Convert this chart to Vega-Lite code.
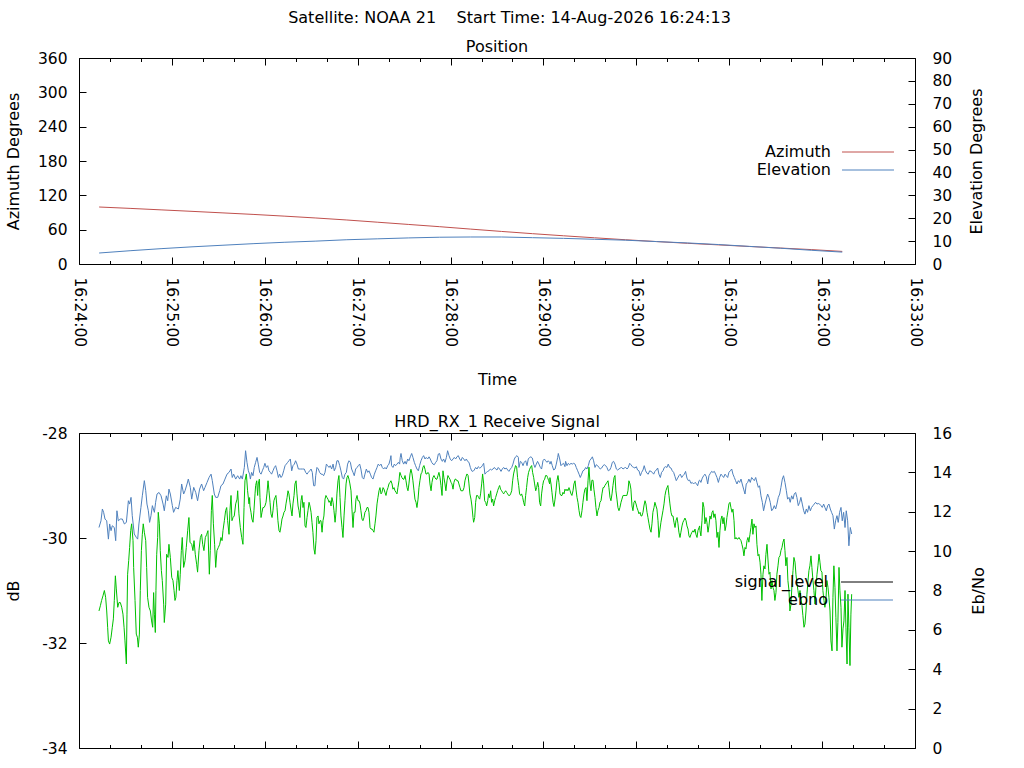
{
  "$schema": "https://vega.github.io/schema/vega-lite/v6.json",
  "background": "white",
  "padding": {"left": 4, "top": 9, "right": 5, "bottom": 5},
  "title": {"text": "Satellite: NOAA 21\u00a0\u00a0\u00a0\u00a0Start Time: 14-Aug-2026 16:24:13", "anchor": "middle", "offset": 13, "dx": 14},
  "spacing": 24,
  "datasets": {
    "pos": [
      {"t": 13, "az": 99.6, "el": 4.8}, {"t": 33, "az": 97.2, "el": 5.8}, {"t": 53, "az": 94.6, "el": 6.7},
      {"t": 73, "az": 92.0, "el": 7.5}, {"t": 93, "az": 89.3, "el": 8.2}, {"t": 113, "az": 86.6, "el": 8.9},
      {"t": 133, "az": 83.6, "el": 9.5}, {"t": 153, "az": 80.4, "el": 10.0}, {"t": 173, "az": 76.9, "el": 10.6},
      {"t": 193, "az": 73.0, "el": 11.0}, {"t": 213, "az": 69.1, "el": 11.4}, {"t": 233, "az": 65.2, "el": 11.7},
      {"t": 253, "az": 61.0, "el": 11.8}, {"t": 273, "az": 56.9, "el": 11.8}, {"t": 293, "az": 53.0, "el": 11.5},
      {"t": 313, "az": 49.3, "el": 11.2}, {"t": 333, "az": 45.8, "el": 10.8}, {"t": 353, "az": 42.4, "el": 10.4},
      {"t": 373, "az": 39.2, "el": 9.8}, {"t": 393, "az": 36.2, "el": 9.2}, {"t": 413, "az": 33.4, "el": 8.5},
      {"t": 433, "az": 30.6, "el": 7.7}, {"t": 453, "az": 27.9, "el": 6.9}, {"t": 473, "az": 25.2, "el": 6.0},
      {"t": 493, "az": 22.0, "el": 5.2}
    ],
    "ebno": [
      {"t":12.9,"v":11.20},{"t":14.2,"v":11.54},{"t":15.1,"v":12.14},{"t":15.9,"v":11.97},{"t":16.8,"v":11.63},{"t":17.9,"v":11.54},{"t":19.0,"v":10.61},{"t":19.8,"v":11.38},{"t":20.7,"v":11.04},{"t":21.5,"v":11.29},{"t":22.8,"v":11.20},{"t":23.7,"v":10.53},{"t":24.5,"v":12.05},{"t":25.4,"v":11.54},{"t":26.7,"v":11.63},{"t":28.0,"v":11.63},{"t":29.3,"v":11.38},{"t":30.6,"v":11.46},{"t":31.9,"v":12.56},{"t":32.7,"v":12.39},{"t":33.6,"v":12.73},{"t":34.4,"v":11.80},{"t":35.7,"v":10.87},{"t":37.0,"v":10.70},{"t":37.9,"v":10.61},{"t":38.7,"v":11.38},{"t":40.0,"v":12.22},{"t":40.9,"v":12.81},{"t":42.2,"v":13.58},{"t":43.1,"v":13.07},{"t":43.9,"v":12.39},{"t":44.8,"v":12.05},{"t":45.6,"v":11.46},{"t":46.5,"v":11.80},{"t":47.4,"v":12.31},{"t":48.7,"v":11.97},{"t":49.5,"v":12.48},{"t":50.4,"v":12.90},{"t":51.7,"v":12.98},{"t":53.0,"v":12.81},{"t":54.3,"v":12.39},{"t":55.1,"v":12.05},{"t":56.4,"v":12.81},{"t":57.3,"v":12.56},{"t":58.1,"v":13.15},{"t":59.0,"v":12.90},{"t":60.3,"v":12.31},{"t":61.1,"v":11.97},{"t":62.4,"v":12.22},{"t":64.2,"v":12.14},{"t":65.4,"v":12.64},{"t":66.3,"v":13.41},{"t":67.6,"v":12.90},{"t":68.5,"v":13.07},{"t":69.8,"v":13.41},{"t":70.6,"v":13.66},{"t":71.9,"v":13.24},{"t":72.8,"v":12.64},{"t":74.1,"v":13.24},{"t":75.4,"v":12.98},{"t":76.6,"v":12.56},{"t":77.9,"v":13.15},{"t":79.2,"v":13.41},{"t":80.5,"v":13.07},{"t":81.4,"v":13.24},{"t":82.7,"v":13.49},{"t":84.0,"v":13.74},{"t":85.3,"v":13.91},{"t":86.1,"v":13.58},{"t":87.4,"v":12.90},{"t":88.3,"v":12.73},{"t":89.6,"v":12.73},{"t":90.9,"v":13.07},{"t":91.7,"v":13.32},{"t":93.0,"v":13.41},{"t":94.3,"v":13.66},{"t":95.6,"v":13.91},{"t":96.9,"v":14.00},{"t":98.2,"v":14.17},{"t":99.0,"v":13.74},{"t":99.9,"v":13.91},{"t":101.2,"v":13.66},{"t":102.5,"v":13.83},{"t":103.8,"v":13.66},{"t":104.6,"v":13.83},{"t":105.5,"v":13.66},{"t":106.8,"v":14.25},{"t":107.6,"v":15.10},{"t":108.5,"v":14.51},{"t":109.4,"v":14.08},{"t":110.2,"v":13.91},
      {"t":110.7,"v":13.66},{"t":111.5,"v":14.00},{"t":112.4,"v":13.83},{"t":113.2,"v":14.25},{"t":114.1,"v":14.51},{"t":115.0,"v":14.76},{"t":115.8,"v":14.42},{"t":116.7,"v":14.00},{"t":117.6,"v":13.91},{"t":118.4,"v":14.08},{"t":119.3,"v":14.25},{"t":120.1,"v":14.46},{"t":121.0,"v":14.25},{"t":121.9,"v":14.34},{"t":122.7,"v":14.08},{"t":123.6,"v":14.00},{"t":124.4,"v":13.91},{"t":125.3,"v":14.08},{"t":126.2,"v":14.25},{"t":127.0,"v":14.34},{"t":127.9,"v":14.08},{"t":128.8,"v":13.74},{"t":129.6,"v":13.91},{"t":130.5,"v":13.74},{"t":131.3,"v":13.83},{"t":132.2,"v":14.08},{"t":133.1,"v":14.34},{"t":133.9,"v":14.42},{"t":134.8,"v":14.51},{"t":135.6,"v":14.59},{"t":136.5,"v":14.68},{"t":137.4,"v":14.08},{"t":138.2,"v":14.34},{"t":139.1,"v":14.42},{"t":139.9,"v":14.59},{"t":140.8,"v":14.42},{"t":141.7,"v":14.17},{"t":143.0,"v":14.17},{"t":144.3,"v":14.17},{"t":145.5,"v":14.17},{"t":146.4,"v":14.00},{"t":147.3,"v":13.91},{"t":148.1,"v":14.00},{"t":149.0,"v":14.08},{"t":149.9,"v":14.17},{"t":150.7,"v":14.00},{"t":151.1,"v":13.66},{"t":151.6,"v":13.32},{"t":152.4,"v":13.32},{"t":152.9,"v":13.83},{"t":153.7,"v":14.25},{"t":154.6,"v":14.17},{"t":155.4,"v":14.00},{"t":156.3,"v":13.91},{"t":157.2,"v":13.91},{"t":158.0,"v":13.83},{"t":158.9,"v":14.00},{"t":159.8,"v":14.42},{"t":160.6,"v":14.34},{"t":161.5,"v":14.25},{"t":162.3,"v":14.34},{"t":163.2,"v":14.17},{"t":164.1,"v":14.42},{"t":164.9,"v":14.08},{"t":165.8,"v":14.25},{"t":166.6,"v":14.59},{"t":167.5,"v":14.59},{"t":168.4,"v":14.34},{"t":169.2,"v":14.08},{"t":170.1,"v":13.74},{"t":170.9,"v":13.66},{"t":171.8,"v":13.91},{"t":172.7,"v":14.00},{"t":173.5,"v":14.42},{"t":174.4,"v":14.59},{"t":175.3,"v":14.51},{"t":176.1,"v":14.17},{"t":177.0,"v":14.00},{"t":177.8,"v":13.83},{"t":178.7,"v":14.17},{"t":179.6,"v":14.25},{"t":180.4,"v":14.34},{"t":181.3,"v":14.42},{"t":182.1,"v":14.17},{"t":183.0,"v":13.74},{"t":183.9,"v":13.66},{"t":184.7,"v":13.91},{"t":185.6,"v":14.17},{"t":186.5,"v":14.00},{"t":187.3,"v":14.08},{"t":188.2,"v":13.91},{"t":189.0,"v":13.74},{"t":189.9,"v":13.66},{"t":190.8,"v":13.91},{"t":191.6,"v":14.08},{"t":192.5,"v":14.25},{"t":193.3,"v":14.42},{"t":194.2,"v":14.34},{"t":195.1,"v":14.42},{"t":195.9,"v":14.25},{"t":196.8,"v":14.17},{"t":197.6,"v":14.25},{"t":198.5,"v":14.17},{"t":199.4,"v":14.34},{"t":200.2,"v":14.42},{"t":201.1,"v":14.68},{"t":201.5,"v":14.85},{"t":201.9,"v":14.34},{"t":202.8,"v":14.25},{"t":203.7,"v":14.42},{"t":204.5,"v":14.34},{"t":205.4,"v":14.42},{"t":206.3,"v":14.51},{"t":207.1,"v":14.42},
      {"t":207.5,"v":14.76},{"t":208.0,"v":14.96},{"t":208.8,"v":14.59},{"t":209.7,"v":14.42},{"t":210.6,"v":14.56},{"t":211.4,"v":14.42},{"t":212.3,"v":14.68},{"t":213.1,"v":14.59},{"t":214.0,"v":14.79},{"t":214.9,"v":14.96},{"t":215.7,"v":14.76},{"t":216.6,"v":14.51},{"t":217.4,"v":14.34},{"t":218.3,"v":14.17},{"t":219.2,"v":14.08},{"t":220.0,"v":14.34},{"t":220.9,"v":14.59},{"t":221.8,"v":14.76},{"t":222.6,"v":14.85},{"t":223.5,"v":14.68},{"t":224.3,"v":14.76},{"t":225.2,"v":14.68},{"t":226.1,"v":14.79},{"t":226.9,"v":14.68},{"t":227.8,"v":14.51},{"t":228.6,"v":14.42},{"t":229.5,"v":14.39},{"t":230.4,"v":14.51},{"t":231.2,"v":14.59},{"t":232.1,"v":14.93},{"t":232.9,"v":14.96},{"t":233.8,"v":14.68},{"t":234.7,"v":14.56},{"t":235.5,"v":14.68},{"t":236.4,"v":14.51},{"t":237.3,"v":14.76},{"t":238.1,"v":15.10},{"t":239.0,"v":14.85},{"t":239.8,"v":14.68},{"t":240.7,"v":14.59},{"t":241.6,"v":14.68},{"t":242.4,"v":14.76},{"t":243.3,"v":14.68},{"t":244.1,"v":14.79},{"t":245.0,"v":14.85},{"t":245.9,"v":14.68},{"t":246.7,"v":14.59},{"t":247.6,"v":14.76},{"t":248.5,"v":14.68},{"t":249.3,"v":14.59},{"t":250.2,"v":14.68},{"t":251.0,"v":14.56},{"t":251.9,"v":14.51},{"t":252.8,"v":14.25},{"t":253.6,"v":14.08},{"t":254.5,"v":14.05},{"t":255.3,"v":14.12},{"t":256.2,"v":14.25},{"t":257.1,"v":14.17},{"t":257.9,"v":14.29},{"t":258.8,"v":14.22},{"t":259.6,"v":14.25},{"t":260.5,"v":14.34},{"t":261.4,"v":14.46},{"t":262.2,"v":13.91},{"t":263.1,"v":14.00},{"t":264.0,"v":14.05},{"t":264.8,"v":14.08},{"t":265.7,"v":14.17},{"t":266.5,"v":14.12},{"t":267.4,"v":14.17},{"t":268.3,"v":14.25},{"t":269.1,"v":14.17},{"t":270.0,"v":14.12},{"t":270.8,"v":14.25},{"t":271.7,"v":14.17},{"t":272.6,"v":14.05},{"t":273.4,"v":14.17},{"t":274.3,"v":14.25},{"t":275.1,"v":14.17},{"t":276.0,"v":14.22},{"t":276.9,"v":14.12},{"t":277.7,"v":14.05},{"t":278.6,"v":14.17},{"t":279.5,"v":14.25},{"t":280.3,"v":14.42},{"t":281.2,"v":14.68},{"t":282.0,"v":14.79},{"t":282.9,"v":14.85},{"t":283.8,"v":14.76},{"t":284.2,"v":14.25},{"t":285.1,"v":14.56},{"t":285.9,"v":14.51},{"t":286.8,"v":14.34},{"t":287.6,"v":14.51},{"t":288.5,"v":14.59},{"t":289.4,"v":14.34},{"t":290.2,"v":14.68},{"t":291.1,"v":14.76},{"t":291.9,"v":14.79},{"t":292.8,"v":14.73},{"t":293.7,"v":14.42},{"t":294.5,"v":14.25},{"t":295.4,"v":14.42},{"t":296.2,"v":14.56},{"t":297.1,"v":14.42},{"t":298.0,"v":14.25},{"t":298.8,"v":14.17},{"t":299.7,"v":14.59},{"t":300.6,"v":14.68},{"t":301.4,"v":14.59},{"t":302.3,"v":14.51},{"t":303.1,"v":14.59},{"t":304.0,"v":14.51},
      {"t":304.2,"v":14.42},{"t":304.9,"v":14.56},{"t":305.7,"v":14.34},{"t":306.6,"v":14.12},{"t":307.5,"v":14.17},{"t":308.3,"v":14.42},{"t":309.2,"v":14.76},{"t":309.6,"v":14.96},{"t":310.5,"v":14.68},{"t":311.3,"v":14.34},{"t":312.2,"v":14.42},{"t":313.0,"v":14.46},{"t":313.9,"v":14.29},{"t":314.3,"v":14.56},{"t":315.2,"v":14.34},{"t":316.1,"v":14.46},{"t":316.9,"v":14.39},{"t":317.8,"v":14.46},{"t":318.6,"v":14.42},{"t":319.5,"v":14.46},{"t":320.4,"v":14.42},{"t":321.2,"v":14.25},{"t":322.1,"v":14.08},{"t":323.0,"v":13.91},{"t":323.8,"v":13.74},{"t":324.7,"v":13.91},{"t":325.5,"v":14.08},{"t":326.4,"v":14.12},{"t":327.3,"v":14.25},{"t":328.1,"v":14.17},{"t":329.0,"v":14.34},{"t":329.8,"v":14.59},{"t":330.7,"v":14.68},{"t":331.6,"v":14.79},{"t":332.4,"v":14.59},{"t":333.3,"v":14.25},{"t":334.1,"v":14.39},{"t":335.0,"v":14.34},{"t":335.9,"v":14.25},{"t":336.7,"v":14.17},{"t":337.6,"v":14.22},{"t":338.5,"v":14.34},{"t":339.3,"v":14.39},{"t":340.2,"v":14.34},{"t":341.0,"v":14.25},{"t":341.9,"v":14.08},{"t":342.8,"v":14.12},{"t":343.6,"v":14.25},{"t":344.5,"v":14.51},{"t":345.3,"v":14.56},{"t":346.2,"v":14.42},{"t":347.1,"v":14.17},{"t":347.9,"v":14.12},{"t":348.8,"v":14.17},{"t":349.6,"v":14.22},{"t":350.5,"v":14.25},{"t":351.4,"v":14.17},{"t":352.2,"v":14.22},{"t":353.1,"v":14.25},{"t":354.0,"v":14.17},{"t":354.8,"v":14.25},{"t":355.7,"v":14.46},{"t":356.5,"v":14.39},{"t":357.4,"v":14.29},{"t":358.3,"v":14.25},{"t":359.1,"v":14.22},{"t":360.0,"v":14.29},{"t":360.8,"v":14.12},{"t":361.7,"v":14.08},{"t":362.6,"v":13.83},{"t":363.4,"v":14.00},{"t":364.3,"v":14.12},{"t":365.1,"v":14.34},{"t":366.0,"v":14.08},{"t":366.9,"v":13.95},{"t":367.7,"v":13.91},{"t":368.6,"v":14.08},{"t":369.5,"v":14.05},{"t":370.3,"v":14.00},{"t":371.2,"v":13.91},{"t":372.0,"v":14.05},{"t":372.9,"v":14.12},{"t":373.8,"v":14.22},{"t":374.6,"v":13.91},{"t":375.5,"v":13.74},{"t":376.3,"v":14.00},{"t":377.2,"v":14.08},{"t":378.1,"v":14.25},{"t":378.9,"v":14.29},{"t":379.8,"v":14.25},{"t":380.6,"v":14.42},{"t":381.5,"v":14.25},{"t":382.4,"v":14.22},{"t":383.2,"v":14.08},{"t":384.1,"v":14.00},{"t":385.0,"v":13.78},{"t":385.8,"v":13.58},{"t":386.7,"v":13.71},{"t":387.5,"v":13.83},{"t":388.4,"v":13.91},{"t":389.3,"v":13.74},{"t":390.1,"v":13.83},{"t":391.0,"v":13.91},{"t":391.8,"v":14.05},{"t":392.7,"v":13.71},{"t":393.6,"v":13.58},{"t":394.4,"v":13.61},{"t":395.3,"v":13.44},{"t":396.1,"v":13.49},{"t":397.0,"v":13.41},{"t":397.9,"v":13.49},{"t":398.7,"v":13.44},{"t":399.6,"v":13.32},{"t":400.5,"v":13.58},{"t":400.9,"v":13.61},
      {"t":401.1,"v":13.58},{"t":401.7,"v":13.49},{"t":402.6,"v":13.71},{"t":403.5,"v":13.83},{"t":404.3,"v":13.91},{"t":405.2,"v":13.78},{"t":406.1,"v":13.41},{"t":406.9,"v":13.83},{"t":407.8,"v":13.95},{"t":408.6,"v":14.05},{"t":409.5,"v":14.00},{"t":410.4,"v":14.05},{"t":411.2,"v":13.91},{"t":412.1,"v":13.74},{"t":413.0,"v":13.49},{"t":413.8,"v":13.74},{"t":414.7,"v":13.91},{"t":415.5,"v":13.83},{"t":416.4,"v":13.74},{"t":417.3,"v":13.91},{"t":418.1,"v":13.83},{"t":419.0,"v":13.74},{"t":419.8,"v":14.00},{"t":420.7,"v":14.08},{"t":421.6,"v":14.17},{"t":422.4,"v":13.91},{"t":423.3,"v":13.74},{"t":424.1,"v":13.58},{"t":425.0,"v":13.41},{"t":425.9,"v":13.58},{"t":426.7,"v":13.49},{"t":427.6,"v":13.66},{"t":428.4,"v":13.41},{"t":429.3,"v":13.15},{"t":430.2,"v":12.90},{"t":431.0,"v":13.41},{"t":431.9,"v":13.49},{"t":432.7,"v":13.66},{"t":433.6,"v":13.49},{"t":434.5,"v":13.74},{"t":435.3,"v":13.66},{"t":436.2,"v":13.58},{"t":437.1,"v":13.74},{"t":437.9,"v":13.49},{"t":438.8,"v":13.24},{"t":439.6,"v":13.32},{"t":440.5,"v":12.81},{"t":441.4,"v":12.48},{"t":442.2,"v":12.05},{"t":443.1,"v":12.39},{"t":443.9,"v":12.64},{"t":444.8,"v":12.90},{"t":445.7,"v":12.73},{"t":446.5,"v":12.48},{"t":447.4,"v":12.05},{"t":448.3,"v":12.14},{"t":449.1,"v":12.31},{"t":450.0,"v":12.14},{"t":450.8,"v":12.39},{"t":451.7,"v":12.73},{"t":452.6,"v":12.90},{"t":453.4,"v":13.24},{"t":454.3,"v":13.66},{"t":455.1,"v":13.83},{"t":456.0,"v":13.49},{"t":456.9,"v":13.07},{"t":457.7,"v":12.64},{"t":458.6,"v":12.73},{"t":459.4,"v":12.48},{"t":460.3,"v":12.81},{"t":461.2,"v":12.64},{"t":462.0,"v":12.90},{"t":462.9,"v":12.98},{"t":463.7,"v":12.73},{"t":464.6,"v":12.31},{"t":465.5,"v":12.48},{"t":466.3,"v":12.73},{"t":467.2,"v":12.39},{"t":468.1,"v":12.05},{"t":468.9,"v":11.88},{"t":469.8,"v":12.14},{"t":470.6,"v":11.97},{"t":471.5,"v":12.31},{"t":472.4,"v":12.05},{"t":473.2,"v":12.22},{"t":474.1,"v":12.31},{"t":474.9,"v":12.39},{"t":475.8,"v":12.48},{"t":476.7,"v":12.39},{"t":477.5,"v":12.42},{"t":478.4,"v":12.39},{"t":479.3,"v":12.31},{"t":480.1,"v":12.22},{"t":481.0,"v":12.39},{"t":481.8,"v":12.22},{"t":482.7,"v":12.05},{"t":483.6,"v":12.31},{"t":484.4,"v":12.39},{"t":485.3,"v":12.14},{"t":486.1,"v":11.97},{"t":487.0,"v":11.80},{"t":487.9,"v":11.12},{"t":488.7,"v":11.54},{"t":489.6,"v":11.80},{"t":490.4,"v":11.46},{"t":491.3,"v":11.97},{"t":492.2,"v":12.22},{"t":493.0,"v":11.54},{"t":493.9,"v":11.97},{"t":494.8,"v":11.20},{"t":495.6,"v":12.05},{"t":496.5,"v":11.54},{"t":497.3,"v":10.27},{"t":498.2,"v":11.20},{"t":499.1,"v":10.87}
    ],
    "sig": [
      {"t":12.9,"v":-31.39},{"t":13.8,"v":-31.29},{"t":14.6,"v":-31.19},{"t":15.5,"v":-31.10},{"t":16.4,"v":-31.00},{"t":17.2,"v":-31.13},{"t":17.9,"v":-31.39},{"t":18.5,"v":-31.70},{"t":19.0,"v":-31.96},{"t":19.8,"v":-32.02},{"t":20.7,"v":-31.89},{"t":21.5,"v":-31.70},{"t":22.2,"v":-31.54},{"t":22.8,"v":-31.19},{"t":23.5,"v":-30.72},{"t":24.1,"v":-30.97},{"t":25.0,"v":-31.32},{"t":25.8,"v":-31.23},{"t":26.7,"v":-31.23},{"t":27.6,"v":-31.32},{"t":28.4,"v":-31.45},{"t":29.1,"v":-31.70},{"t":29.7,"v":-31.96},{"t":30.6,"v":-32.40},{"t":31.0,"v":-31.45},{"t":31.4,"v":-30.69},{"t":32.1,"v":-30.43},{"t":32.7,"v":-30.18},{"t":33.4,"v":-29.86},{"t":34.0,"v":-29.73},{"t":34.9,"v":-30.05},{"t":35.3,"v":-30.56},{"t":36.2,"v":-31.19},{"t":37.0,"v":-31.83},{"t":37.7,"v":-31.89},{"t":38.3,"v":-32.08},{"t":39.0,"v":-31.83},{"t":39.6,"v":-31.00},{"t":40.3,"v":-30.24},{"t":40.9,"v":-29.93},{"t":41.5,"v":-29.73},{"t":42.2,"v":-29.89},{"t":43.1,"v":-30.05},{"t":43.7,"v":-30.56},{"t":44.3,"v":-31.13},{"t":45.2,"v":-31.32},{"t":46.1,"v":-31.39},{"t":46.9,"v":-31.58},{"t":47.6,"v":-31.70},{"t":48.2,"v":-31.04},{"t":48.7,"v":-31.45},{"t":49.3,"v":-31.80},{"t":49.7,"v":-31.00},{"t":50.2,"v":-30.31},{"t":50.8,"v":-29.99},{"t":51.2,"v":-29.51},{"t":51.9,"v":-29.73},{"t":52.5,"v":-30.24},{"t":53.2,"v":-30.62},{"t":53.8,"v":-30.81},{"t":54.7,"v":-31.26},{"t":55.1,"v":-31.61},{"t":56.0,"v":-31.26},{"t":56.6,"v":-30.31},{"t":57.5,"v":-30.37},{"t":58.1,"v":-30.12},{"t":59.0,"v":-30.37},{"t":59.9,"v":-30.75},{"t":60.7,"v":-30.81},{"t":61.4,"v":-31.00},{"t":62.0,"v":-31.19},{"t":62.6,"v":-31.13},{"t":63.3,"v":-30.81},{"t":63.9,"v":-30.62},{"t":64.8,"v":-31.00},{"t":65.4,"v":-30.69},{"t":66.1,"v":-30.24},{"t":66.7,"v":-29.99},{"t":67.6,"v":-30.56},{"t":68.5,"v":-30.43},{"t":69.3,"v":-30.18},{"t":70.2,"v":-29.86},{"t":71.0,"v":-29.61},{"t":71.7,"v":-30.08},{"t":72.8,"v":-30.12},{"t":73.6,"v":-30.24},{"t":74.3,"v":-30.05},{"t":75.1,"v":-30.31},{"t":76.0,"v":-30.50},{"t":76.6,"v":-30.65},{"t":77.5,"v":-30.24},{"t":78.4,"v":-29.99},{"t":79.2,"v":-29.93},{"t":79.9,"v":-30.12},{"t":80.7,"v":-30.24},{"t":81.6,"v":-29.99},{"t":82.5,"v":-29.93},{"t":83.3,"v":-29.86},{"t":84.2,"v":-30.69},{"t":84.8,"v":-30.24},{"t":85.5,"v":-29.48},{"t":86.1,"v":-29.19},{"t":86.8,"v":-29.73},{"t":87.6,"v":-30.12},{"t":88.3,"v":-30.56},{"t":89.1,"v":-30.24},{"t":90.0,"v":-30.18},{"t":90.9,"v":-30.12},{"t":91.7,"v":-29.99},{"t":92.4,"v":-30.05},{"t":93.0,"v":-29.86},{"t":93.9,"v":-29.67},{"t":94.7,"v":-29.48},{"t":95.4,"v":-29.42},{"t":96.0,"v":-29.67},{"t":96.9,"v":-29.93},{"t":97.5,"v":-29.48},{"t":98.2,"v":-29.19},{"t":98.8,"v":-29.67},{"t":99.5,"v":-29.61},{"t":100.3,"v":-29.58},{"t":101.2,"v":-29.35},{"t":102.1,"v":-29.26},{"t":102.5,"v":-29.10},{"t":103.3,"v":-29.54},{"t":104.2,"v":-29.80},{"t":105.1,"v":-29.99},{"t":105.9,"v":-30.12},{"t":106.6,"v":-29.42},{"t":107.2,"v":-28.91},{"t":108.1,"v":-28.78},{"t":108.9,"v":-29.10},{"t":109.8,"v":-29.35},{"t":110.2,"v":-29.23},
      {"t":110.4,"v":-29.39},{"t":111.1,"v":-29.51},{"t":111.7,"v":-29.64},{"t":112.4,"v":-29.70},{"t":113.0,"v":-29.48},{"t":113.7,"v":-29.16},{"t":114.1,"v":-29.00},{"t":114.8,"v":-28.91},{"t":115.4,"v":-29.19},{"t":115.8,"v":-28.97},{"t":116.5,"v":-28.88},{"t":116.9,"v":-29.23},{"t":117.6,"v":-29.61},{"t":118.2,"v":-29.51},{"t":118.8,"v":-29.42},{"t":119.5,"v":-29.42},{"t":120.1,"v":-29.39},{"t":120.8,"v":-29.32},{"t":121.4,"v":-29.16},{"t":122.1,"v":-28.91},{"t":122.7,"v":-29.10},{"t":123.4,"v":-29.32},{"t":124.0,"v":-29.54},{"t":124.7,"v":-29.61},{"t":125.3,"v":-29.48},{"t":125.9,"v":-29.29},{"t":126.6,"v":-29.23},{"t":127.2,"v":-29.19},{"t":127.9,"v":-29.42},{"t":128.5,"v":-29.67},{"t":129.2,"v":-29.86},{"t":129.8,"v":-29.89},{"t":130.5,"v":-29.77},{"t":131.1,"v":-29.64},{"t":131.8,"v":-29.58},{"t":132.4,"v":-29.51},{"t":133.1,"v":-29.48},{"t":133.7,"v":-29.35},{"t":134.4,"v":-29.23},{"t":135.0,"v":-29.10},{"t":135.6,"v":-29.16},{"t":136.3,"v":-29.32},{"t":136.9,"v":-29.45},{"t":137.6,"v":-29.58},{"t":138.2,"v":-29.35},{"t":138.9,"v":-29.19},{"t":139.5,"v":-28.97},{"t":140.2,"v":-28.91},{"t":140.8,"v":-29.16},{"t":141.5,"v":-29.39},{"t":142.1,"v":-29.48},{"t":142.7,"v":-29.61},{"t":143.4,"v":-29.29},{"t":144.0,"v":-29.19},{"t":144.7,"v":-29.42},{"t":145.3,"v":-29.32},{"t":146.0,"v":-29.77},{"t":146.6,"v":-29.80},{"t":147.3,"v":-29.61},{"t":147.9,"v":-29.48},{"t":148.6,"v":-29.32},{"t":149.2,"v":-29.39},{"t":149.9,"v":-29.51},{"t":150.5,"v":-29.70},{"t":151.1,"v":-29.89},{"t":151.8,"v":-30.21},{"t":152.4,"v":-30.31},{"t":153.1,"v":-30.05},{"t":153.7,"v":-29.61},{"t":154.4,"v":-29.58},{"t":155.0,"v":-29.73},{"t":155.7,"v":-29.67},{"t":156.3,"v":-29.67},{"t":157.0,"v":-29.89},{"t":157.6,"v":-29.67},{"t":158.2,"v":-29.58},{"t":158.9,"v":-29.26},{"t":159.5,"v":-29.19},{"t":160.2,"v":-29.23},{"t":160.8,"v":-29.26},{"t":161.5,"v":-29.32},{"t":162.1,"v":-29.29},{"t":162.8,"v":-29.39},{"t":163.4,"v":-29.23},{"t":164.1,"v":-29.32},{"t":164.7,"v":-29.48},{"t":165.4,"v":-29.70},{"t":166.0,"v":-29.51},{"t":166.6,"v":-29.16},{"t":167.3,"v":-28.91},{"t":167.9,"v":-28.81},{"t":168.6,"v":-29.23},{"t":169.2,"v":-29.58},{"t":169.9,"v":-29.80},{"t":170.5,"v":-29.99},{"t":171.2,"v":-29.58},{"t":171.8,"v":-29.29},{"t":172.5,"v":-28.97},{"t":173.1,"v":-28.85},{"t":173.7,"v":-28.81},{"t":174.4,"v":-28.88},{"t":175.0,"v":-28.97},{"t":175.7,"v":-29.10},{"t":176.3,"v":-29.45},{"t":177.0,"v":-29.80},{"t":177.6,"v":-29.51},{"t":178.3,"v":-29.51},{"t":178.9,"v":-29.26},{"t":179.6,"v":-29.19},{"t":180.2,"v":-29.29},{"t":180.9,"v":-29.29},{"t":181.5,"v":-29.35},{"t":182.1,"v":-29.48},{"t":182.8,"v":-29.64},{"t":183.4,"v":-29.67},{"t":184.1,"v":-29.61},{"t":184.7,"v":-29.51},{"t":185.4,"v":-29.48},{"t":186.0,"v":-29.42},{"t":186.7,"v":-29.42},{"t":187.3,"v":-29.51},{"t":188.0,"v":-29.80},{"t":188.6,"v":-29.83},{"t":189.3,"v":-29.83},{"t":189.9,"v":-29.86},{"t":190.5,"v":-29.89},{"t":191.2,"v":-29.73},{"t":191.8,"v":-29.58},{"t":192.5,"v":-29.35},{"t":193.1,"v":-29.23},{"t":193.8,"v":-29.10},{"t":194.4,"v":-29.04},{"t":195.1,"v":-29.16},{"t":195.7,"v":-29.13},{"t":196.4,"v":-29.04},{"t":197.0,"v":-29.07},{"t":197.6,"v":-29.13},{"t":198.3,"v":-29.19},{"t":198.9,"v":-29.10},{"t":199.6,"v":-29.04},{"t":200.2,"v":-28.97},{"t":200.9,"v":-28.94},{"t":201.5,"v":-28.91},{"t":202.2,"v":-28.97},{"t":202.8,"v":-29.07},{"t":203.5,"v":-29.04},{"t":204.1,"v":-29.10},{"t":204.8,"v":-29.13},{"t":205.4,"v":-29.16},{"t":206.0,"v":-29.04},{"t":206.7,"v":-28.91},{"t":207.1,"v":-28.78},
      {"t":207.3,"v":-28.75},{"t":208.0,"v":-28.81},{"t":208.6,"v":-28.85},{"t":209.3,"v":-28.88},{"t":209.9,"v":-28.88},{"t":210.6,"v":-28.81},{"t":211.2,"v":-28.91},{"t":211.9,"v":-29.04},{"t":212.5,"v":-29.10},{"t":213.1,"v":-28.97},{"t":213.8,"v":-28.78},{"t":214.4,"v":-28.69},{"t":215.1,"v":-28.78},{"t":215.7,"v":-28.91},{"t":216.4,"v":-29.10},{"t":217.0,"v":-29.26},{"t":217.7,"v":-29.32},{"t":218.3,"v":-29.42},{"t":219.0,"v":-29.26},{"t":219.6,"v":-29.04},{"t":220.2,"v":-28.91},{"t":220.9,"v":-28.78},{"t":221.5,"v":-28.75},{"t":222.2,"v":-28.65},{"t":222.8,"v":-28.62},{"t":223.5,"v":-28.69},{"t":224.1,"v":-28.78},{"t":224.8,"v":-28.78},{"t":225.4,"v":-28.75},{"t":226.1,"v":-28.78},{"t":226.7,"v":-28.97},{"t":227.4,"v":-29.10},{"t":228.0,"v":-28.94},{"t":228.6,"v":-28.85},{"t":229.3,"v":-28.81},{"t":229.9,"v":-28.85},{"t":230.6,"v":-28.88},{"t":231.2,"v":-28.88},{"t":231.9,"v":-28.81},{"t":232.5,"v":-28.75},{"t":233.2,"v":-28.85},{"t":233.8,"v":-29.00},{"t":234.5,"v":-29.19},{"t":235.1,"v":-28.72},{"t":235.7,"v":-28.85},{"t":236.4,"v":-28.97},{"t":237.0,"v":-29.10},{"t":237.7,"v":-28.91},{"t":238.3,"v":-28.81},{"t":239.0,"v":-28.85},{"t":239.6,"v":-28.88},{"t":240.3,"v":-28.94},{"t":240.9,"v":-28.97},{"t":241.6,"v":-29.07},{"t":242.2,"v":-28.94},{"t":242.9,"v":-28.88},{"t":243.5,"v":-28.88},{"t":244.1,"v":-28.91},{"t":244.8,"v":-28.91},{"t":245.4,"v":-28.97},{"t":246.1,"v":-29.04},{"t":246.7,"v":-29.10},{"t":247.4,"v":-29.10},{"t":248.0,"v":-29.10},{"t":248.7,"v":-29.04},{"t":249.3,"v":-28.91},{"t":250.0,"v":-28.83},{"t":250.6,"v":-28.78},{"t":251.3,"v":-28.81},{"t":251.9,"v":-28.97},{"t":252.5,"v":-29.16},{"t":253.2,"v":-29.26},{"t":253.8,"v":-29.39},{"t":254.5,"v":-29.61},{"t":254.9,"v":-29.70},{"t":255.6,"v":-29.61},{"t":256.2,"v":-29.32},{"t":256.8,"v":-29.19},{"t":257.5,"v":-29.19},{"t":258.1,"v":-29.23},{"t":258.8,"v":-29.26},{"t":259.4,"v":-29.16},{"t":260.1,"v":-28.97},{"t":260.7,"v":-28.78},{"t":261.4,"v":-28.97},{"t":262.0,"v":-29.29},{"t":262.7,"v":-29.32},{"t":263.3,"v":-29.39},{"t":264.0,"v":-29.29},{"t":264.6,"v":-29.16},{"t":265.2,"v":-29.23},{"t":265.9,"v":-29.10},{"t":266.5,"v":-29.32},{"t":267.2,"v":-29.26},{"t":267.8,"v":-29.39},{"t":268.5,"v":-29.29},{"t":269.1,"v":-29.23},{"t":269.8,"v":-29.16},{"t":270.4,"v":-29.10},{"t":271.1,"v":-29.04},{"t":271.7,"v":-29.00},{"t":272.3,"v":-29.07},{"t":273.0,"v":-29.10},{"t":273.6,"v":-29.13},{"t":274.3,"v":-29.16},{"t":274.9,"v":-29.13},{"t":275.6,"v":-29.10},{"t":276.2,"v":-29.13},{"t":276.9,"v":-29.16},{"t":277.5,"v":-29.19},{"t":278.2,"v":-29.19},{"t":278.8,"v":-29.16},{"t":279.5,"v":-29.10},{"t":280.1,"v":-28.91},{"t":280.7,"v":-28.78},{"t":281.4,"v":-28.69},{"t":282.0,"v":-28.62},{"t":282.7,"v":-28.65},{"t":283.3,"v":-28.85},{"t":284.0,"v":-29.00},{"t":284.6,"v":-29.16},{"t":285.3,"v":-29.19},{"t":285.9,"v":-29.16},{"t":286.6,"v":-29.23},{"t":287.2,"v":-29.32},{"t":287.9,"v":-29.39},{"t":288.5,"v":-29.19},{"t":289.1,"v":-29.04},{"t":289.8,"v":-28.85},{"t":290.4,"v":-28.75},{"t":291.1,"v":-28.69},{"t":291.7,"v":-28.65},{"t":292.4,"v":-28.62},{"t":293.0,"v":-28.75},{"t":293.7,"v":-28.85},{"t":294.3,"v":-28.97},{"t":295.0,"v":-29.10},{"t":295.6,"v":-29.04},{"t":296.3,"v":-28.94},{"t":296.9,"v":-29.04},{"t":297.5,"v":-29.32},{"t":298.2,"v":-29.39},{"t":298.8,"v":-29.16},{"t":299.5,"v":-29.00},{"t":300.1,"v":-28.91},{"t":300.8,"v":-28.88},{"t":301.4,"v":-28.81},{"t":302.1,"v":-28.81},{"t":302.7,"v":-28.85},{"t":303.4,"v":-28.91},{"t":304.0,"v":-28.97},
      {"t":304.2,"v":-28.85},{"t":304.9,"v":-28.97},{"t":305.5,"v":-29.13},{"t":306.2,"v":-29.32},{"t":306.8,"v":-29.40},{"t":307.5,"v":-29.26},{"t":308.1,"v":-29.10},{"t":308.7,"v":-28.91},{"t":309.4,"v":-28.81},{"t":310.0,"v":-28.94},{"t":310.7,"v":-29.16},{"t":311.3,"v":-29.19},{"t":312.0,"v":-29.19},{"t":312.6,"v":-29.13},{"t":313.3,"v":-29.16},{"t":313.9,"v":-29.07},{"t":314.6,"v":-29.10},{"t":315.2,"v":-29.07},{"t":315.8,"v":-29.10},{"t":316.5,"v":-29.04},{"t":317.1,"v":-29.09},{"t":317.8,"v":-29.16},{"t":318.4,"v":-29.19},{"t":319.1,"v":-29.10},{"t":319.7,"v":-28.97},{"t":320.4,"v":-28.91},{"t":321.0,"v":-29.07},{"t":321.7,"v":-29.23},{"t":322.3,"v":-29.32},{"t":323.0,"v":-29.48},{"t":323.6,"v":-29.58},{"t":324.2,"v":-29.61},{"t":324.9,"v":-29.48},{"t":325.5,"v":-29.32},{"t":326.2,"v":-29.16},{"t":326.8,"v":-29.07},{"t":327.5,"v":-29.04},{"t":328.1,"v":-29.29},{"t":328.8,"v":-28.91},{"t":329.4,"v":-28.65},{"t":330.1,"v":-28.97},{"t":330.7,"v":-29.10},{"t":331.3,"v":-28.90},{"t":332.0,"v":-28.90},{"t":332.6,"v":-29.07},{"t":333.3,"v":-29.23},{"t":333.9,"v":-29.42},{"t":334.6,"v":-29.58},{"t":335.2,"v":-29.48},{"t":335.9,"v":-29.42},{"t":336.5,"v":-29.32},{"t":337.2,"v":-29.29},{"t":337.8,"v":-29.16},{"t":338.5,"v":-29.04},{"t":339.1,"v":-29.04},{"t":339.7,"v":-29.00},{"t":340.4,"v":-28.97},{"t":341.0,"v":-28.94},{"t":341.7,"v":-28.91},{"t":342.3,"v":-29.04},{"t":343.0,"v":-29.23},{"t":343.6,"v":-29.29},{"t":344.3,"v":-29.16},{"t":344.9,"v":-29.00},{"t":345.6,"v":-28.85},{"t":346.2,"v":-28.81},{"t":346.8,"v":-29.10},{"t":347.5,"v":-29.26},{"t":348.1,"v":-29.42},{"t":348.8,"v":-29.48},{"t":349.4,"v":-29.42},{"t":350.1,"v":-29.32},{"t":350.7,"v":-29.26},{"t":351.4,"v":-29.19},{"t":352.0,"v":-29.19},{"t":352.7,"v":-29.19},{"t":353.3,"v":-29.19},{"t":353.9,"v":-29.19},{"t":354.6,"v":-29.10},{"t":355.2,"v":-28.91},{"t":355.9,"v":-28.97},{"t":356.5,"v":-29.07},{"t":357.2,"v":-29.39},{"t":357.8,"v":-29.48},{"t":358.5,"v":-29.32},{"t":359.1,"v":-29.29},{"t":359.8,"v":-29.35},{"t":360.4,"v":-29.42},{"t":361.1,"v":-29.48},{"t":361.7,"v":-29.54},{"t":362.4,"v":-29.51},{"t":363.0,"v":-29.58},{"t":363.6,"v":-29.58},{"t":364.3,"v":-29.51},{"t":364.9,"v":-29.39},{"t":365.6,"v":-29.29},{"t":366.2,"v":-29.35},{"t":366.9,"v":-29.51},{"t":367.5,"v":-29.61},{"t":368.2,"v":-29.73},{"t":368.8,"v":-29.83},{"t":369.5,"v":-29.89},{"t":370.1,"v":-29.73},{"t":370.7,"v":-29.51},{"t":371.4,"v":-29.42},{"t":372.0,"v":-29.32},{"t":372.7,"v":-29.39},{"t":373.3,"v":-29.45},{"t":374.0,"v":-29.67},{"t":374.6,"v":-29.99},{"t":375.3,"v":-29.83},{"t":375.9,"v":-29.70},{"t":376.6,"v":-29.58},{"t":377.2,"v":-29.48},{"t":377.9,"v":-29.35},{"t":378.5,"v":-29.19},{"t":379.1,"v":-29.10},{"t":379.8,"v":-29.04},{"t":380.4,"v":-29.00},{"t":381.1,"v":-29.19},{"t":381.7,"v":-29.35},{"t":382.4,"v":-29.51},{"t":383.0,"v":-29.58},{"t":383.7,"v":-29.58},{"t":384.3,"v":-29.70},{"t":385.0,"v":-29.80},{"t":385.6,"v":-29.67},{"t":386.3,"v":-29.61},{"t":386.9,"v":-29.73},{"t":387.5,"v":-29.89},{"t":388.2,"v":-29.99},{"t":388.8,"v":-29.89},{"t":389.5,"v":-29.77},{"t":390.1,"v":-29.70},{"t":390.8,"v":-29.66},{"t":391.4,"v":-29.62},{"t":392.1,"v":-29.67},{"t":392.7,"v":-29.77},{"t":393.4,"v":-29.83},{"t":394.0,"v":-29.96},{"t":394.6,"v":-29.99},{"t":395.3,"v":-29.93},{"t":395.9,"v":-29.89},{"t":396.6,"v":-29.86},{"t":397.2,"v":-29.89},{"t":397.9,"v":-29.83},{"t":398.5,"v":-29.93},{"t":399.2,"v":-29.99},{"t":399.8,"v":-29.86},{"t":400.5,"v":-29.80},{"t":400.9,"v":-29.77},
      {"t":401.1,"v":-29.86},{"t":401.7,"v":-29.96},{"t":402.4,"v":-29.67},{"t":403.0,"v":-29.32},{"t":403.7,"v":-29.42},{"t":404.3,"v":-29.73},{"t":405.0,"v":-29.61},{"t":405.6,"v":-29.70},{"t":406.3,"v":-29.89},{"t":406.9,"v":-29.77},{"t":407.6,"v":-29.58},{"t":408.2,"v":-29.64},{"t":408.9,"v":-29.51},{"t":409.5,"v":-29.48},{"t":410.1,"v":-29.61},{"t":410.8,"v":-29.54},{"t":411.4,"v":-29.67},{"t":412.1,"v":-29.99},{"t":412.7,"v":-29.89},{"t":413.4,"v":-30.18},{"t":414.0,"v":-29.86},{"t":414.7,"v":-29.64},{"t":415.3,"v":-29.58},{"t":416.0,"v":-29.73},{"t":416.6,"v":-29.61},{"t":417.3,"v":-29.86},{"t":417.9,"v":-29.77},{"t":418.5,"v":-29.61},{"t":419.2,"v":-29.48},{"t":419.8,"v":-29.35},{"t":420.5,"v":-29.32},{"t":421.1,"v":-29.42},{"t":421.8,"v":-29.51},{"t":422.4,"v":-29.45},{"t":423.1,"v":-29.67},{"t":423.7,"v":-30.02},{"t":424.4,"v":-29.99},{"t":425.0,"v":-30.02},{"t":425.6,"v":-30.02},{"t":426.3,"v":-29.99},{"t":426.9,"v":-30.02},{"t":427.6,"v":-30.05},{"t":428.2,"v":-30.12},{"t":428.9,"v":-30.21},{"t":429.5,"v":-30.34},{"t":430.2,"v":-30.18},{"t":430.8,"v":-30.21},{"t":431.5,"v":-30.05},{"t":432.1,"v":-29.99},{"t":432.7,"v":-30.08},{"t":433.4,"v":-29.93},{"t":434.0,"v":-29.80},{"t":434.7,"v":-29.64},{"t":435.3,"v":-29.93},{"t":436.0,"v":-29.73},{"t":436.6,"v":-29.80},{"t":437.3,"v":-29.77},{"t":437.9,"v":-30.12},{"t":438.6,"v":-30.34},{"t":439.2,"v":-30.31},{"t":439.9,"v":-30.46},{"t":440.5,"v":-30.69},{"t":441.1,"v":-31.19},{"t":441.8,"v":-30.69},{"t":442.4,"v":-30.53},{"t":443.1,"v":-30.59},{"t":443.7,"v":-30.31},{"t":444.4,"v":-30.12},{"t":445.0,"v":-30.40},{"t":445.7,"v":-30.69},{"t":446.3,"v":-30.65},{"t":447.0,"v":-30.97},{"t":447.6,"v":-30.81},{"t":448.2,"v":-30.94},{"t":448.9,"v":-31.00},{"t":449.5,"v":-31.19},{"t":450.2,"v":-31.04},{"t":450.8,"v":-30.69},{"t":451.5,"v":-30.53},{"t":452.1,"v":-30.37},{"t":452.8,"v":-30.34},{"t":453.4,"v":-30.24},{"t":454.1,"v":-30.18},{"t":454.7,"v":-30.08},{"t":455.4,"v":-30.02},{"t":456.0,"v":-30.24},{"t":456.6,"v":-30.53},{"t":457.3,"v":-30.37},{"t":457.9,"v":-30.81},{"t":458.6,"v":-31.00},{"t":459.2,"v":-31.39},{"t":459.9,"v":-31.26},{"t":460.5,"v":-30.91},{"t":461.2,"v":-30.62},{"t":461.8,"v":-30.37},{"t":462.5,"v":-30.46},{"t":463.1,"v":-30.69},{"t":463.8,"v":-30.88},{"t":464.4,"v":-31.00},{"t":465.0,"v":-31.13},{"t":465.7,"v":-31.00},{"t":466.3,"v":-31.13},{"t":467.0,"v":-31.29},{"t":467.6,"v":-31.48},{"t":468.3,"v":-31.70},{"t":468.9,"v":-31.64},{"t":469.6,"v":-31.39},{"t":470.2,"v":-31.07},{"t":470.9,"v":-30.81},{"t":471.5,"v":-30.62},{"t":472.1,"v":-30.53},{"t":472.8,"v":-30.34},{"t":473.4,"v":-30.56},{"t":474.1,"v":-30.81},{"t":474.7,"v":-31.00},{"t":475.4,"v":-31.26},{"t":476.0,"v":-30.94},{"t":476.7,"v":-30.69},{"t":477.3,"v":-30.53},{"t":478.0,"v":-30.31},{"t":478.6,"v":-30.46},{"t":479.2,"v":-30.62},{"t":479.9,"v":-30.65},{"t":480.5,"v":-31.00},{"t":481.2,"v":-31.19},{"t":481.8,"v":-31.32},{"t":482.5,"v":-31.16},{"t":483.1,"v":-30.81},{"t":483.8,"v":-30.94},{"t":484.4,"v":-31.13},{"t":485.1,"v":-31.39},{"t":485.7,"v":-31.96},{"t":486.4,"v":-32.15},{"t":487.0,"v":-31.13},{"t":487.6,"v":-30.53},{"t":488.3,"v":-30.94},{"t":488.9,"v":-31.51},{"t":489.6,"v":-32.15},{"t":490.2,"v":-31.61},{"t":490.9,"v":-30.56},{"t":491.5,"v":-31.00},{"t":492.2,"v":-31.32},{"t":492.8,"v":-32.08},{"t":493.5,"v":-31.73},{"t":494.1,"v":-31.58},{"t":494.8,"v":-31.00},{"t":495.4,"v":-31.70},{"t":496.1,"v":-32.40},{"t":496.7,"v":-31.07},{"t":497.3,"v":-31.70},{"t":498.0,"v":-32.43},{"t":498.6,"v":-31.45},{"t":499.1,"v":-31.07}
    ]
  },
  "vconcat": [
    {
      "title": {"text": "Position", "offset": -4},
      "width": 836,
      "height": 206,
      "data": {"name": "pos"},
      "layer": [
        {
          "mark": {"type": "line", "strokeWidth": 1},
          "encoding": {
            "x": {
              "field": "t", "type": "quantitative",
              "scale": {"domain": [0, 540], "nice": false, "zero": false},
              "axis": {"orient": "bottom", "values": [0, 20, 40, 60, 80, 100, 120, 140, 160, 180, 200, 220, 240, 260, 280, 300, 320, 340, 360, 380, 400, 420, 440, 460, 480, 500, 520, 540],
                "tickCount": 100,
                "labelExpr": "datum.value % 60 === 0 ? '16:' + (24 + datum.value / 60) + ':00' : ''", "labelAngle": 90,
                "labelOverlap": false, "labelFlush": false,
                "labelPadding": 13, "ticks": false, "grid": true,
                "gridDash": {"condition": {"test": "datum.value % 60 === 0", "value": [7, 192, 7]}, "value": [3.5, 199, 3.5]},
                "title": "Time", "titlePadding": 25}
            },
            "y": {
              "field": "az", "type": "quantitative",
              "scale": {"domain": [0, 360], "nice": false},
              "axis": {"orient": "left", "values": [0, 60, 120, 180, 240, 300, 360], "ticks": false, "grid": true, "gridDash": [7, 2000],
                "labelOverlap": false, "labelPadding": 12, "title": "Azimuth Degrees", "titleX": -66, "titleBaseline": "middle"}
            },
            "color": {
              "datum": "Azimuth", "type": "nominal",
              "scale": {"domain": ["Azimuth", "Elevation"], "range": ["#c0504d", "#4f81bd"]},
              "legend": {"orient": "none", "legendX": 781, "legendY": 86, "title": null,
                "symbolType": "M-5,0H5", "symbolSize": 108, "symbolStrokeWidth": 1,
                "labelAlign": "right", "labelOffset": -45, "rowPadding": 2, "padding": 0}
            }
          }
        },
        {
          "mark": {"type": "line", "strokeWidth": 1},
          "encoding": {
            "x": {"field": "t", "type": "quantitative"},
            "y": {
              "field": "el", "type": "quantitative",
              "scale": {"domain": [0, 90], "nice": false},
              "axis": {"orient": "right", "values": [0, 10, 20, 30, 40, 50, 60, 70, 80, 90], "ticks": false, "grid": true, "gridDash": [7, 2000],
                "labelOverlap": false, "labelPadding": 17, "title": "Elevation Degrees", "titleX": 61, "titleAngle": -90, "titleBaseline": "middle"}
            },
            "color": {"datum": "Elevation", "type": "nominal"}
          }
        }
      ],
      "resolve": {"scale": {"y": "independent"}}
    },
    {
      "title": {"text": "HRD_RX_1 Receive Signal", "offset": -4},
      "width": 836,
      "height": 315,
      "layer": [
        {
          "data": {"name": "sig"},
          "mark": {"type": "line", "strokeWidth": 1, "color": "#00c000"},
          "encoding": {
            "x": {
              "field": "t", "type": "quantitative",
              "scale": {"domain": [0, 540], "nice": false, "zero": false},
              "axis": {"orient": "bottom", "values": [0, 20, 40, 60, 80, 100, 120, 140, 160, 180, 200, 220, 240, 260, 280, 300, 320, 340, 360, 380, 400, 420, 440, 460, 480, 500, 520, 540],
                "tickCount": 100, "labels": false, "ticks": false, "grid": true,
                "gridDash": {"condition": {"test": "datum.value % 60 === 0", "value": [7, 301, 7]}, "value": [3.5, 308, 3.5]},
                "title": null}
            },
            "y": {
              "field": "v", "type": "quantitative",
              "scale": {"domain": [-34, -28], "nice": false, "zero": false},
              "axis": {"orient": "left", "values": [-34, -32, -30, -28], "labelExpr": "'' + datum.value", "ticks": false, "grid": true, "gridDash": [7, 2000],
                "labelOverlap": false, "labelPadding": 12, "title": "dB", "titleX": -66, "titleBaseline": "middle"}
            }
          }
        },
        {
          "data": {"name": "ebno"},
          "mark": {"type": "line", "strokeWidth": 1},
          "encoding": {
            "x": {"field": "t", "type": "quantitative"},
            "y": {
              "field": "v", "type": "quantitative",
              "scale": {"domain": [0, 16], "nice": false},
              "axis": {"orient": "right", "values": [0, 2, 4, 6, 8, 10, 12, 14, 16], "ticks": false, "grid": true, "gridDash": [7, 2000],
                "labelOverlap": false, "labelPadding": 17, "title": "Eb/No", "titleX": 63, "titleAngle": -90, "titleBaseline": "middle"}
            },
            "color": {
              "datum": "ebno", "type": "nominal",
              "scale": {"domain": ["signal_level", "ebno"], "range": ["#000000", "#4f81bd"]},
              "legend": {"orient": "none", "legendX": 780, "legendY": 141, "title": null,
                "symbolType": "M-5,0H5", "symbolSize": 108, "symbolStrokeWidth": 1,
                "labelAlign": "right", "labelOffset": -47, "rowPadding": 2, "padding": 0}
            }
          }
        }
      ],
      "resolve": {"scale": {"y": "independent"}}
    }
  ],
  "resolve": {"scale": {"color": "independent"}},
  "config": {
    "font": "DejaVu Sans",
    "view": {"stroke": "black", "strokeWidth": 1},
    "axis": {
      "domain": false, "gridColor": "black", "gridOpacity": 1, "gridWidth": 1,
      "labelFont": "DejaVu Sans", "labelFontSize": 15.5, "labelColor": "black",
      "labelFlush": false, "labelOverlap": false,
      "titleFont": "DejaVu Sans", "titleFontSize": 16, "titleFontWeight": "normal", "titleColor": "black"
    },
    "title": {"font": "DejaVu Sans", "fontSize": 16, "fontWeight": "normal", "color": "black"},
    "legend": {"labelFont": "DejaVu Sans", "labelFontSize": 16, "labelColor": "black"}
  }
}
